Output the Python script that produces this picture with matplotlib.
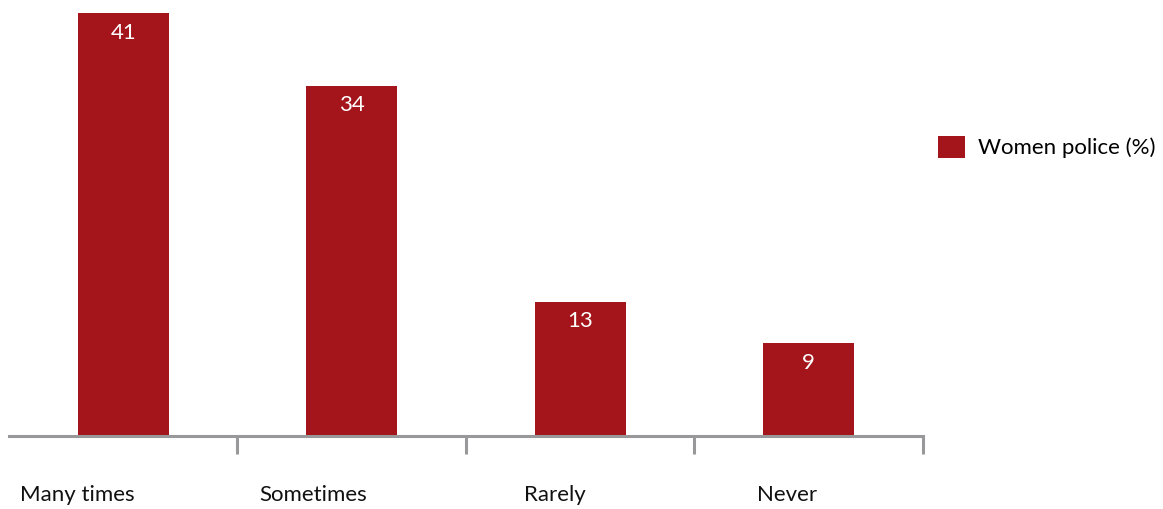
import matplotlib.pyplot as plt
from matplotlib.patches import Patch

# Data
categories = ["Many times", "Sometimes", "Rarely", "Never"]
values = [41, 34, 13, 9]
series_name = "Women police (%)"

bar_color = "#A3151A"
axis_color = "#98989B"
font = "Lato"
fs = 16

fig = plt.figure(figsize=(11.63, 5.09), dpi=100)
ax = fig.add_axes([9 / 1163, 73 / 509, 914 / 1163, 436 / 509])

x = list(range(len(categories)))
bars = ax.bar(x, values, width=0.4, color=bar_color, zorder=2)

# value labels inside the bars
for xi, v in zip(x, values):
    ax.annotate(str(v), (xi, v), xytext=(0, -14), textcoords="offset points",
                ha="center", va="center", color="white", fontsize=fs, family=font)

ax.set_xlim(-0.5, len(categories) - 0.5)
ax.set_ylim(0, 42.3)

for s in ["top", "right", "left"]:
    ax.spines[s].set_visible(False)
ax.spines["bottom"].set_color(axis_color)
ax.spines["bottom"].set_linewidth(2.2)

# separator ticks between categories
ax.set_xticks([i + 0.5 for i in x])
ax.set_xticklabels([])
ax.tick_params(axis="x", direction="out", length=13, width=2.2, color=axis_color)
ax.set_yticks([])

# category labels (slightly left of bar centers, as in the source)
label_shift = [-0.2, -0.17, -0.11, -0.095]
for xi, name, dx in zip(x, categories, label_shift):
    ax.text(xi + dx, -0.135, name, transform=ax.get_xaxis_transform(),
            ha="center", va="center", fontsize=fs, family=font, color="#111111")

handle = Patch(facecolor=bar_color, edgecolor="none")
fig.legend([handle], [series_name], loc="center left",
           bbox_to_anchor=(938 / 1163, 1 - 147 / 509), frameon=False,
           borderpad=0, borderaxespad=0, handlelength=1.2, handleheight=1.2,
           handletextpad=0.6, prop={"family": font, "size": fs})

fig.savefig("out.png", dpi=100)
